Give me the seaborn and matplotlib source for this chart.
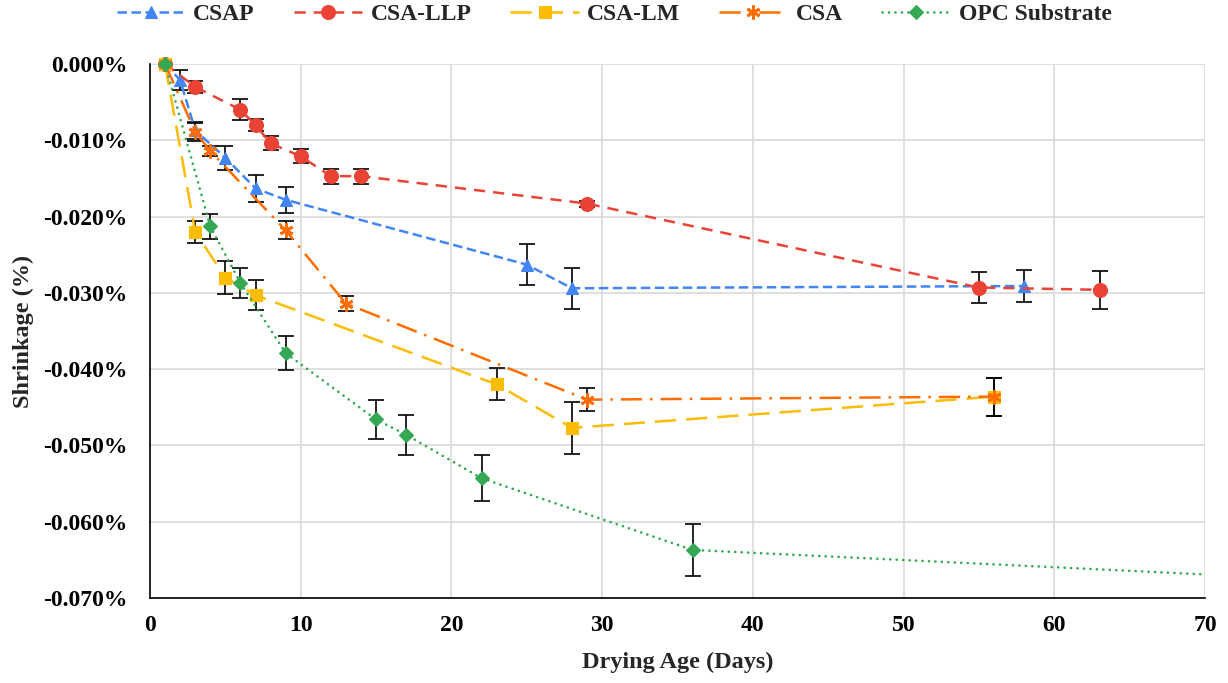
import matplotlib
matplotlib.use("Agg")
import numpy as np
import pandas as pd
import seaborn as sns
import matplotlib.pyplot as plt
from matplotlib.lines import Line2D
from matplotlib.transforms import Bbox, TransformedBbox
from matplotlib.ticker import FuncFormatter, MultipleLocator

# ---- data: drying age (days), shrinkage (%), error (± %) ----
days_csap = [1, 2, 3, 5, 7, 9, 25, 28, 58]
shr_csap = [0.0, -0.0021, -0.0087, -0.0123, -0.0163, -0.0178, -0.0263, -0.0294, -0.0291]
err_csap = [0.0, 0.0013, 0.0011, 0.0016, 0.0018, 0.0017, 0.0027, 0.0027, 0.0021]

days_llp = [1, 3, 6, 7, 8, 10, 12, 14, 29, 55, 63]
shr_llp = [0.0, -0.0030, -0.0060, -0.0080, -0.0104, -0.0121, -0.0147, -0.0147, -0.0183, -0.0293, -0.0296]
err_llp = [0.0, 0.0008, 0.0014, 0.0008, 0.0009, 0.0009, 0.0010, 0.0010, 0.0004, 0.0020, 0.0025]

days_lm = [1, 3, 5, 7, 23, 28, 56]
shr_lm = [0.0, -0.0220, -0.0280, -0.0303, -0.0420, -0.0477, -0.0436]
err_lm = [0.0, 0.0014, 0.0022, 0.0020, 0.0021, 0.0034, 0.0025]

days_csa = [1, 3, 4, 9, 13, 29, 56]
shr_csa = [0.0, -0.0089, -0.0114, -0.0218, -0.0314, -0.0440, -0.0436]
err_csa = [0.0, 0.0012, 0.0006, 0.0012, 0.0010, 0.0015, 0.0025]

days_opc = [1, 4, 6, 9, 15, 17, 22, 36, 90]
shr_opc = [0.0, -0.0213, -0.0287, -0.0379, -0.0466, -0.0486, -0.0543, -0.0637, -0.0688]
err_opc = [0.0, 0.0017, 0.0020, 0.0022, 0.0026, 0.0026, 0.0030, 0.0034, 0.0]

mixes = ["CSAP", "CSA-LLP", "CSA-LM", "CSA", "OPC Substrate"]
all_days = [days_csap, days_llp, days_lm, days_csa, days_opc]
all_shr = [shr_csap, shr_llp, shr_lm, shr_csa, shr_opc]
all_err = [err_csap, err_llp, err_lm, err_csa, err_opc]

# ---- styling ----
colors = {"CSAP": "#4285F4", "CSA-LLP": "#EA4335", "CSA-LM": "#FBBC04",
          "CSA": "#FF6D01", "OPC Substrate": "#34A853"}
markers = {"CSAP": "^", "CSA-LLP": "o", "CSA-LM": "s",
           "CSA": (6, 2, 0), "OPC Substrate": "D"}
# seaborn needs one marker family; the asterisk for CSA is set afterwards
sns_markers = {**markers, "CSA": "X"}
dashes = {"CSAP": (3.8, 1.8), "CSA-LLP": (4.5, 3.2), "CSA-LM": (8.5, 4.0),
          "CSA": (8.5, 3.2, 1.0, 3.2), "OPC Substrate": (0.05, 2.4)}
capstyles = {"CSAP": "butt", "CSA-LLP": "butt", "CSA-LM": "butt",
             "CSA": "butt", "OPC Substrate": "round"}
msizes = {"CSAP": 9, "CSA-LLP": 10, "CSA-LM": 9, "CSA": 10, "OPC Substrate": 7.5}
lwidths = {"CSAP": 1.8, "CSA-LLP": 1.8, "CSA-LM": 1.8, "CSA": 1.8, "OPC Substrate": 1.9}

sns.set_theme(style="white")
plt.rcParams["font.family"] = ["Liberation Serif", "DejaVu Serif"]
plt.rcParams["font.weight"] = "bold"

df = pd.concat(
    [pd.DataFrame({"Drying Age (Days)": d, "Shrinkage (%)": s, "Mix": m})
     for m, d, s in zip(mixes, all_days, all_shr)],
    ignore_index=True,
)

fig = plt.figure(figsize=(12.28, 6.83), dpi=100)
ax = fig.add_axes([150 / 1228, 1 - 598 / 683, 1055 / 1228, 534 / 683])

# error bars first, markers sit on top of them
for d, s, e in zip(all_days, all_shr, all_err):
    d, s, e = np.array(d), np.array(s), np.array(e)
    keep = e > 0
    ax.errorbar(d[keep], s[keep], yerr=e[keep], fmt="none", ecolor="black",
                elinewidth=1.2, capsize=6, capthick=1.2, zorder=1.9)

n_before = len(ax.lines)
sns.lineplot(data=df, x="Drying Age (Days)", y="Shrinkage (%)", hue="Mix",
             style="Mix", hue_order=mixes, style_order=mixes, palette=colors,
             markers=sns_markers, dashes=dashes, sort=False, legend=False,
             linewidth=1.8, ax=ax)

# lines: clip horizontally at the axis range, let markers spill over the top edge
clip = TransformedBbox(Bbox([[0.0, -0.04], [1.0, 1.04]]), ax.transAxes)
data_lines = ax.lines[n_before:]
for ln, m in zip(data_lines, mixes):
    ln.set_marker(markers[m])
    ln.set_color(colors[m])
    ln.set_markerfacecolor(colors[m])
    ln.set_markeredgecolor(colors[m])
    ln.set_markeredgewidth(2.0 if m == "CSA" else 0.8)
    ln.set_markersize(msizes[m])
    ln.set_linewidth(lwidths[m])
    ln.set_dash_capstyle(capstyles[m])
    ln.set_clip_box(clip)
    ln.set_zorder(2 + mixes.index(m) * 0.01)

ax.set_xlim(0, 70)
ax.set_ylim(-0.07, 0.0)
ax.xaxis.set_major_locator(MultipleLocator(10))
ax.yaxis.set_major_locator(MultipleLocator(0.01))


def pct(v, pos):
    if abs(v) < 1e-12:
        v = 0.0
    return f"{v:.3f}%"


ax.yaxis.set_major_formatter(FuncFormatter(pct))
ax.grid(True, color="#d9d9d9", linewidth=1.2)
ax.set_axisbelow(True)
for side in ("top", "right"):
    ax.spines[side].set_visible(False)
for side in ("left", "bottom"):
    ax.spines[side].set_color("black")
    ax.spines[side].set_linewidth(1.2)
    ax.spines[side].set_zorder(1.5)

ax.tick_params(axis="both", direction="inout", length=10, width=1.2,
               color="black", labelsize=17, labelcolor="black")
ax.tick_params(axis="y", pad=11)
ax.tick_params(axis="x", pad=7)
for lab in ax.get_xticklabels() + ax.get_yticklabels():
    lab.set_fontweight("bold")

ax.set_xlabel("")
ax.set_ylabel("")
fig.text(678 / 1228, 1 - 662 / 683, "Drying Age (Days)", ha="center",
         va="center", fontsize=17.5, fontweight="bold")
fig.text(23 / 1228, 1 - 331 / 683, "Shrinkage (%)", ha="center", va="center",
         rotation=90, fontsize=17.5, fontweight="bold")

handles = []
for m in mixes:
    h = Line2D([], [], color=colors[m], linewidth=lwidths[m],
               dashes=dashes[m], marker=markers[m], markersize=msizes[m],
               markerfacecolor=colors[m], markeredgecolor=colors[m],
               markeredgewidth=2.0 if m == "CSA" else 0.8)
    h.set_dash_capstyle(capstyles[m])
    handles.append(h)
fig.legend(handles, mixes, loc="center", bbox_to_anchor=(0.5, 1 - 14 / 683),
           ncol=5, frameon=False, prop={"size": 17, "weight": "bold"},
           handlelength=2.9, handletextpad=0.35, columnspacing=1.65)

fig.savefig("out.png", dpi=100)
